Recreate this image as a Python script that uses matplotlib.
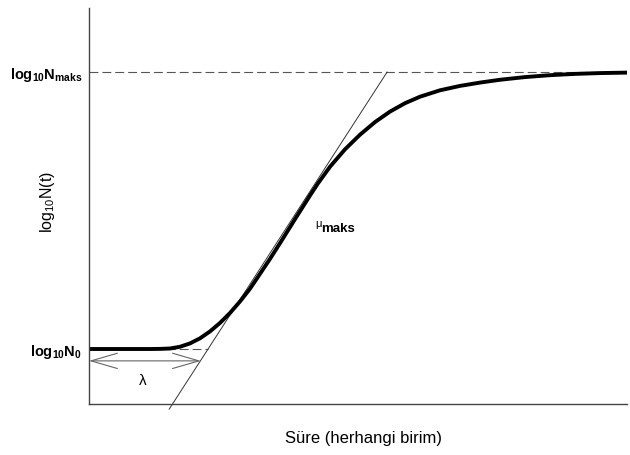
import matplotlib
matplotlib.use('Agg')
import matplotlib.pyplot as plt

plt.rcParams['font.family'] = ['Liberation Sans', 'DejaVu Sans']
plt.rcParams['mathtext.fontset'] = 'custom'
plt.rcParams['mathtext.rm'] = 'Liberation Sans'
plt.rcParams['mathtext.it'] = 'Liberation Sans:italic'
plt.rcParams['mathtext.bf'] = 'Liberation Sans:bold'

# growth curve, time in arbitrary units, log10 N
t = [0, 11.34, 13.20, 15.06, 16.91, 18.77, 20.63, 22.49, 24.35, 26.21,
     28.07, 29.93, 31.78, 33.64, 35.50, 38.29, 41.08, 42.57, 44.80, 47.58,
     50.37, 53.16, 55.95, 58.74, 61.52, 65.24, 68.96, 72.68, 76.39, 81.04,
     85.69, 90.33, 94.98, 100]
logN = [2.000, 2.000, 2.003, 2.013, 2.057, 2.142, 2.270, 2.445, 2.660, 2.912,
        3.203, 3.526, 3.900, 4.279, 4.676, 5.283, 5.882, 6.190, 6.609, 7.047,
        7.418, 7.737, 8.002, 8.214, 8.378, 8.540, 8.651, 8.735, 8.806, 8.874,
        8.922, 8.955, 8.975, 8.987]

logN0 = 2.0
logNmax = 9.0
lag = 22.2          # lambda
tangent_t = [14.9, 55.4]
tangent_y = [0.48, 9.0]
t_end = 100

fig = plt.figure(figsize=(6.3, 4.55), dpi=100)
ax = fig.add_axes([0.1413, 0.1121, 0.854, 0.8703])

# reference levels
ax.plot([0, t_end], [logNmax, logNmax], color='#555555', lw=0.8, dashes=(8, 3.6))
ax.plot([0, lag], [logN0, logN0], color='#555555', lw=0.8, dashes=(8, 3.6))

# tangent at max growth rate
ax.plot(tangent_t, tangent_y, color='#333333', lw=0.7, clip_on=False)

# curve
ax.plot(t, logN, color='black', lw=2.8, solid_joinstyle='round')

# lag arrow
ax.annotate('', xy=(0, 1.70), xytext=(20.8, 1.70),
            arrowprops=dict(arrowstyle='<->,head_length=1.9,head_width=0.55',
                            color='#666666', lw=0.8, shrinkA=0, shrinkB=0))
ax.text(10.0, 1.19, 'λ', fontsize=11, ha='center', va='center')

ax.text(42.6, 5.17, 'μ', fontsize=8, ha='center', va='center')
ax.text(46.3, 5.04, 'maks', fontsize=9.5, fontweight='bold',
        ha='center', va='center')

ax.set_xlim(0, t_end)
ax.set_ylim(0.61, 10.62)

ax.set_yticks([logN0, logNmax])
ax.set_yticklabels([r'$\mathbf{log}_{\mathbf{10}}\mathbf{N}_{\mathbf{0}}$',
                    r'$\mathbf{log}_{\mathbf{10}}\mathbf{N}_{\mathbf{maks}}$'],
                   fontsize=10.5)
ax.set_xticks([])
ax.tick_params(axis='y', length=0, pad=5)

ax.text(-0.078, 0.51, r'$\mathrm{log}_{\mathrm{10}}\mathrm{N(t)}$', fontsize=11.5,
        rotation=90, ha='center', va='center', transform=ax.transAxes)
ax.text(0.511, -0.088, 'Süre (herhangi birim)', fontsize=12,
        ha='center', va='center', transform=ax.transAxes)

for side in ['top', 'right']:
    ax.spines[side].set_visible(False)
for side in ['left', 'bottom']:
    ax.spines[side].set_color('#444444')
    ax.spines[side].set_linewidth(1.0)

fig.savefig('out.png', dpi=100, facecolor='white')
